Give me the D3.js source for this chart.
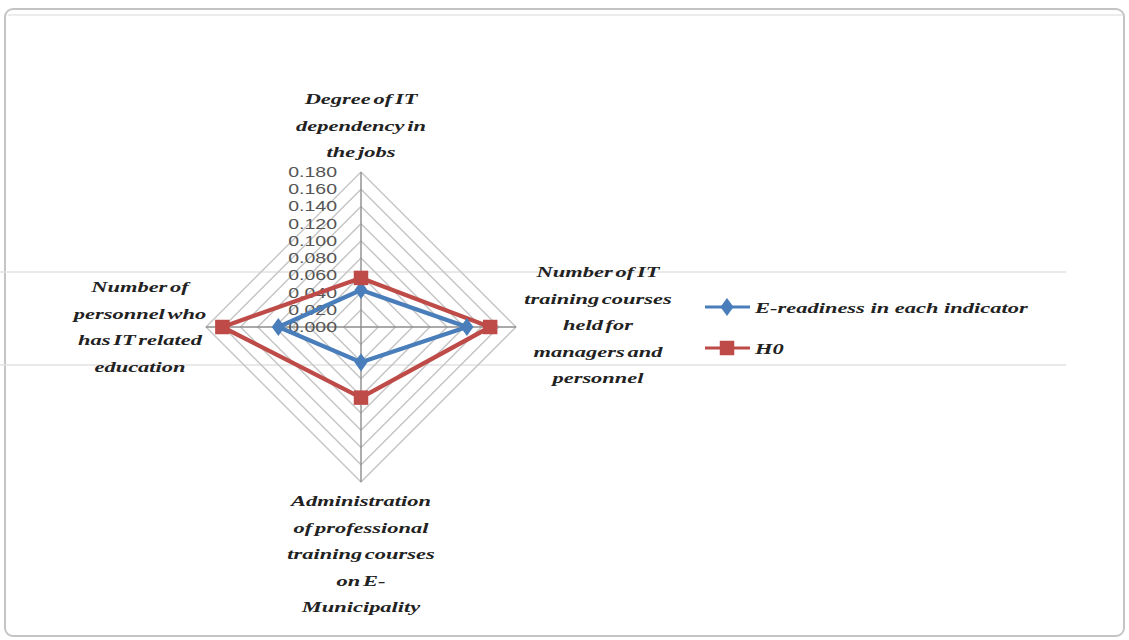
<!DOCTYPE html>
<html>
<head>
<meta charset="utf-8">
<script src="https://cdn.jsdelivr.net/npm/d3@7"></script>
<style>
  html, body { margin: 0; padding: 0; background: #fff; }
  svg { display: block; }
</style>
</head>
<body>
<svg id="chart" width="1129" height="640"></svg>
<script>
// Indicators (clockwise from the top), with their label lines
const indicators = [
  ["Degree of IT", "dependency in", "the jobs"],
  ["Number of IT", "training courses", "held for", "managers and", "personnel"],
  ["Administration", "of professional", "training courses", "on E-", "Municipality"],
  ["Number of", "personnel who", "has IT related", "education"]
];
const seriesNames = ["E-readiness in each indicator", "H0"];
const eReadiness = [0.043, 0.123, 0.041, 0.096];
const h0 = [0.057, 0.150, 0.082, 0.161];
const tickValues = [0, 0.02, 0.04, 0.06, 0.08, 0.10, 0.12, 0.14, 0.16, 0.18];

const svg = d3.select("#chart");
const cx = 361, cy = 327, R = 155;
const stretch = 1.45;
const serif = "'Liberation Serif', 'DejaVu Serif', serif";

const r = d3.scaleLinear().domain([0, 0.18]).range([0, R]);
const angle = i => i * Math.PI / 2; // 0 at top, clockwise
const pt = (i, v) => [cx + r(v) * Math.sin(angle(i)), cy - r(v) * Math.cos(angle(i))];

// page frame
svg.append("rect").attr("x", 5).attr("y", 9).attr("width", 1119).attr("height", 627)
  .attr("rx", 8).attr("fill", "none").attr("stroke", "#c4c4c4").attr("stroke-width", 2);
svg.append("line").attr("x1", 8).attr("x2", 1122).attr("y1", 15).attr("y2", 15)
  .attr("stroke", "#ececec").attr("stroke-width", 2);

// faint horizontal rules across the page
[272, 365].forEach(y => svg.append("line").attr("x1", 0).attr("x2", 1066)
  .attr("y1", y).attr("y2", y).attr("stroke", "#e2e2e2").attr("stroke-width", 1.5));

const g = svg.append("g");

// concentric grid rings
const ringLine = d3.line();
tickValues.slice(1).forEach(t => {
  const pts = indicators.map((_, i) => pt(i, t));
  pts.push(pts[0]);
  g.append("path").attr("d", ringLine(pts)).attr("fill", "none")
    .attr("stroke", "#c4c4c4").attr("stroke-width", 1.4);
});

// radial axes
indicators.forEach((_, i) => {
  const [x2, y2] = pt(i, 0.18);
  g.append("line").attr("x1", cx).attr("y1", cy).attr("x2", x2).attr("y2", y2)
    .attr("stroke", "#8c8c8c").attr("stroke-width", 1.4);
});

// tick labels along the top axis
tickValues.forEach(t => {
  g.append("text")
    .attr("transform", `translate(337,${cy - r(t) + 5}) scale(1.3,1)`)
    .attr("text-anchor", "end")
    .attr("font-family", "'Liberation Sans', Arial, sans-serif")
    .attr("font-size", 15)
    .attr("fill", "#555")
    .text(t.toFixed(3));
});

// series polygons
const colors = ["#4a7ebb", "#be4b48"];
[eReadiness, h0].forEach((vals, s) => {
  const pts = vals.map((v, i) => pt(i, v));
  pts.push(pts[0]);
  g.append("path").attr("d", ringLine(pts)).attr("fill", "none")
    .attr("stroke", colors[s]).attr("stroke-width", 4.3).attr("stroke-linejoin", "miter");
});

// markers
const diamond = d3.symbol().type(d3.symbolDiamond).size(95);
const square = d3.symbol().type(d3.symbolSquare).size(210);
eReadiness.forEach((v, i) => {
  const [x, y] = pt(i, v);
  g.append("path").attr("d", diamond()).attr("transform", `translate(${x},${y}) scale(1.25,1)`).attr("fill", colors[0]);
});
h0.forEach((v, i) => {
  const [x, y] = pt(i, v);
  g.append("path").attr("d", square()).attr("transform", `translate(${x},${y})`).attr("fill", colors[1]);
});

// indicator labels
const labelPos = [
  { x: cx, y: 104 },
  { x: 598, y: 277 },
  { x: 361, y: 506 },
  { x: 140, y: 292 }
];
indicators.forEach((lines, i) => {
  lines.forEach((ln, k) => {
    svg.append("text")
      .attr("transform", `translate(${labelPos[i].x},${labelPos[i].y + k * 26.5}) scale(${stretch},1)`)
      .attr("text-anchor", "middle")
      .attr("font-family", serif)
      .attr("font-style", "italic")
      .attr("font-weight", "bold")
      .attr("font-size", 15.5)
      .attr("word-spacing", -2)
      .attr("fill", "#222")
      .text(ln);
  });
});

// legend
const legendY = [307, 348];
seriesNames.forEach((name, s) => {
  const lg = svg.append("g");
  lg.append("line").attr("x1", 705).attr("x2", 750).attr("y1", legendY[s]).attr("y2", legendY[s])
    .attr("stroke", colors[s]).attr("stroke-width", 3);
  lg.append("path").attr("d", s === 0 ? diamond() : square())
    .attr("transform", `translate(727,${legendY[s]})${s === 0 ? " scale(1.25,1)" : ""}`).attr("fill", colors[s]);
  lg.append("text")
    .attr("transform", `translate(755,${legendY[s] + 6}) scale(${stretch},1)`)
    .attr("font-family", serif)
    .attr("font-style", "italic")
    .attr("font-weight", "bold")
    .attr("font-size", 15.5)
    .attr("fill", "#222")
    .text(name);
});
</script>
</body>
</html>
